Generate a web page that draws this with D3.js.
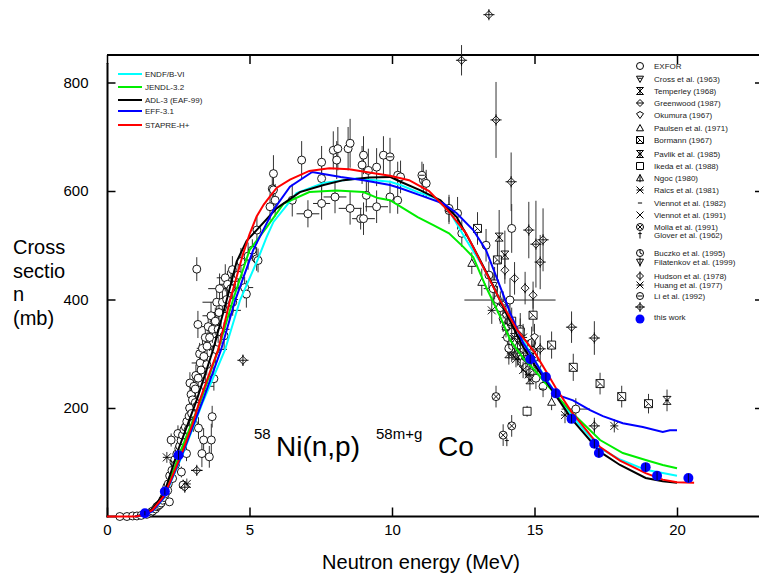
<!DOCTYPE html>
<html>
<head>
<meta charset="utf-8">
<script src="https://cdn.jsdelivr.net/npm/d3@7"></script>
<style>
body { margin: 0; background: #fff; }
svg { font-family: Arial, "Liberation Sans", sans-serif; }
</style>
</head>
<body>
<svg id="chart" width="759" height="575"></svg>
<script>
// evaluated curves [E (MeV), sigma (mb)]
var endfCurve = [[1.0,0],[1.3,3],[1.6,10],[2.0,34],[2.7,120],[3.37,212],[4.14,307],[4.67,399],[5.3,475],[5.6,515],[5.84,543],[6.65,596],[7.6,615],[8.76,623],[9.93,617],[10.3,611],[10.9,598],[11.45,589],[12.0,564],[12.6,510],[13.2,460],[13.8,399],[14.4,343],[15.0,288],[15.4,255],[15.8,222],[16.3,186],[17.3,126],[18.0,105],[18.9,86],[19.5,80],[20.0,75]]
var jendlCurve = [[1.0,0],[1.3,3],[1.6,11],[2.0,38],[2.6,123],[3.3,215],[3.9,307],[4.42,399],[5.0,491],[5.6,533],[6.2,577],[7.1,598],[8.05,601],[9.0,598],[9.5,587],[9.93,583],[10.4,568],[10.9,552],[11.45,537],[12.0,522],[12.5,497],[12.85,478],[13.3,423],[13.8,368],[14.15,325],[14.6,292],[15.0,270],[15.4,245],[16.3,192],[17.3,141],[18.1,117],[18.9,104],[19.5,95],[20.0,89]]
var adlCurve = [[1.0,0],[1.3,4],[1.6,14],[2.0,42],[2.5,123],[3.15,215],[3.72,307],[4.2,399],[4.55,470],[4.9,508],[5.25,528],[5.95,568],[6.77,598],[7.6,611],[8.3,620],[9.2,625],[9.93,626],[10.3,617],[11.0,601],[11.7,583],[12.27,552],[12.85,497],[13.45,436],[14.0,375],[14.6,313],[15.0,280],[15.4,250],[16.3,180],[17.3,119],[18.0,95],[18.9,71],[19.5,65],[20.0,62]]
var effCurve = [[1.0,0],[1.3,3],[1.6,10],[2.0,35],[2.7,123],[3.37,215],[4.0,307],[4.5,399],[5.13,491],[5.25,504],[5.84,565],[6.42,608],[7.2,635],[8.2,626],[9.0,620],[9.93,611],[10.3,605],[11.0,592],[11.8,577],[12.27,559],[12.85,528],[13.3,491],[13.8,423],[14.15,375],[14.6,320],[15.0,288],[15.4,252],[15.8,224],[16.35,214],[16.95,196],[17.4,185],[18.1,172],[18.8,165],[19.5,156],[19.75,159],[20.0,159]]
var stapreCurve = [[0,0],[1.0,0],[1.3,3],[1.6,12],[2.0,38],[2.3,75],[2.67,123],[3.0,170],[3.26,215],[3.6,265],[3.9,307],[4.32,399],[4.78,485],[5.0,520],[5.25,553],[5.5,575],[5.72,590],[5.96,606],[6.42,621],[7.1,637],[7.8,642],[8.5,640],[9.2,634],[9.93,628],[10.6,620],[11.3,600],[12.0,562],[12.6,522],[13.2,460],[13.8,398],[14.4,343],[15.0,303],[15.4,268],[15.75,237],[16.3,193],[17.3,128],[18.0,103],[18.9,80],[19.5,68],[20.0,63],[20.6,62]]

var curveNames = ['ENDF/B-VI', 'JENDL-3.2', 'ADL-3 (EAF-99)', 'EFF-3.1', 'STAPRE-H+']
var curveColors = ['#00ffff', '#00ee00', '#000000', '#0000ff', '#ff0000']

// measured points [E, sigma, dSigma, dE]
var exfor = [[0.45,0,0,0],[0.7,0,0,0],[0.9,1,0,0],[1.05,1,0,0],[1.2,2,0,0],[1.4,4,0,0],[1.55,8,3,0],[1.6,10,3,0.1],[1.7,14,4,0],[1.75,18,4,0],[1.8,20,4,0.1],[1.85,22,5,0],[1.9,25,5,0],[1.95,30,5,0.1],[2.0,35,6,0],[2.05,42,6,0],[2.1,55,6,0],[2.13,48,8,0],[2.15,60,7,0.1],[2.19,27,6,0],[2.2,75,8,0],[2.25,141,12,0],[2.28,85,8,0],[2.3,70,8,0.15],[2.35,100,10,0],[2.38,105,8,0],[2.4,95,10,0.15],[2.45,115,10,0.1],[2.49,153,15,0],[2.52,125,10,0],[2.55,130,12,0],[2.6,140,12,0],[2.61,82,10,0],[2.65,150,12,0],[2.67,58,10,0],[2.7,160,14,0.1],[2.75,165,12,0],[2.79,116,14,0],[2.8,175,15,0],[2.85,160,15,0.2],[2.88,185,14,0],[2.9,200,15,0.15],[2.91,246,20,0],[2.95,225,16,0],[2.97,190,18,0],[3.0,215,18,0],[3.03,172,16,0],[3.05,240,18,0],[3.1,235,18,0],[3.1,210,18,0.2],[3.12,260,20,0.15],[3.15,203,20,0],[3.15,456,22,0],[3.19,354,25,0],[3.2,255,20,0.2],[3.21,163,20,0],[3.25,300,20,0],[3.27,283,22,0.3],[3.3,270,20,0],[3.33,116,25,0],[3.35,310,22,0.2],[3.39,141,22,0],[3.4,295,22,0.2],[3.45,240,20,0.3],[3.45,330,22,0],[3.5,280,20,0],[3.51,314,25,0.3],[3.55,350,25,0.3],[3.59,110,20,0],[3.6,330,25,0.3],[3.65,370,25,0.3],[3.66,141,30,0],[3.69,184,20,0],[3.7,345,25,0],[3.75,254,22,0],[3.8,360,25,0.2],[3.81,308,25,0.4],[3.85,395,25,0.5],[3.9,345,25,0.4],[3.93,376,25,0.3],[3.95,420,28,0.4],[4.0,340,22,0.2],[4.05,395,25,0],[4.11,333,25,0],[4.15,440,25,0.3],[4.2,400,25,0.4],[4.23,428,25,0.3],[4.3,380,20,0.4],[4.35,420,30,0.3],[4.4,455,25,0],[4.41,395,25,0],[4.5,440,22,0.3],[4.6,445,25,0],[4.7,470,25,0],[4.83,422,20,0.3],[4.89,410,25,0],[4.95,480,25,0],[5.1,491,20,0],[5.25,475,22,0],[5.26,528,25,0],[5.3,472,22,0],[5.72,571,25,0],[5.8,604,30,0],[5.84,632,34,0],[5.84,602,30,0],[5.9,583,30,0],[6.5,583,30,0],[6.83,657,35,0],[7.05,558,25,0.4],[7.53,653,30,0],[7.53,623,30,0],[7.53,577,30,0.3],[7.94,675,35,0],[8.0,589,30,0.4],[8.06,657,35,0],[8.1,678,40,0],[8.46,678,40,0],[8.53,688,45,0],[8.53,568,30,0.4],[8.9,549,20,0],[8.95,648,35,0],[9.0,666,35,0],[9.0,549,30,0.4],[9.1,592,30,0],[9.17,638,40,0],[9.46,644,35,0],[9.46,571,30,0.4],[9.7,666,35,0],[9.93,589,30,0],[10.2,629,25,0],[10.2,583,25,0],[10.3,626,30,0],[11.1,620,30,0],[11.2,614,25,0],[12.0,564,25,0],[12.3,559,30,0],[12.45,522,25,0],[13.3,500,30,0],[13.4,445,25,0],[13.55,420,30,0],[13.7,400,25,0],[13.8,385,30,0],[13.9,365,25,0],[14.0,350,20,0],[14.05,330,25,0.2],[14.1,360,30,0],[14.14,399,40,1.6],[14.2,531,45,0],[14.2,340,25,0],[14.25,310,20,0],[14.35,325,25,0],[14.4,298,20,0],[14.45,300,20,0],[14.5,345,30,0],[14.55,285,20,0],[14.6,310,25,0],[14.7,275,20,0],[14.75,300,25,0],[14.85,265,20,0],[14.9,320,30,0],[15.05,255,20,0],[15.1,280,25,0],[15.3,240,20,0],[16.45,198,20,0.5]]
var cross63 = [[13.6,430,30,0],[14.5,295,20,0]]
var temperley68 = [[14.3,330,25,0],[14.9,300,25,0]]
var greenwood87 = [[13.9,390,25,0],[14.7,290,20,0]]
var okumura67 = [[14.0,370,25,0],[15.0,330,25,0]]
var paulsen71 = [[12.8,467,20,0],[13.15,432,25,0],[14.0,350,20,0],[14.3,320,20,0],[15.6,211,15,0]]
var bormann67 = [[13.0,531,30,0],[13.7,473,35,0],[14.2,360,25,0],[14.5,340,25,0],[14.95,371,30,0],[15.6,316,25,0],[16.36,275,25,0],[17.3,245,20,0],[18.06,221,20,0],[19.0,208,18,0]]
var pavlik85 = [[13.76,515,50,0],[13.96,482,45,0],[14.1,300,20,0],[14.84,252,20,0],[19.65,214,20,0]]
var ikeda88 = [[14.74,194,10,0]]
var ngoc80 = [[14.4,315,20,0]]
var raics81 = [[2.1,109,10,0],[13.5,380,25,0],[14.6,330,25,0],[16.07,187,15,0],[17.8,167,12,0]]
var viennot82 = [[13.3,420,0,0],[15.26,235,0,0]]
var viennot91 = [[14.2,300,15,0],[14.6,270,15,0]]
var molla91 = [[13.65,221,20,0],[13.9,150,20,0],[14.2,167,20,0]]
var glover62 = [[14.03,137,0,0]]
var buczko95 = [[14.1,310,20,0]]
var filatenkov99 = [[14.76,290,15,0]]
var hudson78 = [[13.96,454,25,0],[14.3,439,30,0],[14.67,421,30,0],[14.95,408,25,0]]
var huang77 = [[2.8,60,10,0],[14.35,290,15,0],[14.8,262,15,0]]
var li92 = [[9.93,663,35,0],[11.05,629,25,0],[12.0,568,25,0]]
var unnamed = [[2.73,54,8,0],[3.15,85,8,0.2],[4.77,288,10,0],[12.44,841,28,0],[13.4,925,8,0],[13.65,731,70,0],[14.18,617,54,0],[14.8,528,52,0],[14.95,307,20,0],[15.05,502,80,0],[15.2,469,50,0],[15.2,309,25,0],[15.3,510,58,0],[16.3,349,29,0],[17.1,329,31,0],[17.1,167,15,0]]
var thisWork = [[1.33,6,4,0],[2.03,46,6,0],[2.51,113,8,0],[14.85,290,8,0],[15.4,257,8,0],[15.75,227,8,0],[16.3,180,8,0],[17.1,134,8,0],[17.26,117,8,0],[18.9,91,8,0],[19.3,75,8,0],[20.4,71,8,0]]

var setNames = ['EXFOR', 'Cross et al. (1963)', 'Temperley (1968)', 'Greenwood (1987)', 'Okumura (1967)', 'Paulsen et al. (1971)', 'Bormann (1967)', 'Pavlik et al. (1985)', 'Ikeda et al. (1988)', 'Ngoc (1980)', 'Raics et al. (1981)', 'Viennot et al. (1982)', 'Viennot et al. (1991)', 'Molla et al. (1991)', 'Glover et al. (1962)', 'Buczko et al. (1995)', 'Filatenkov et al. (1999)', 'Hudson et al. (1978)', 'Huang et al. (1977)', 'Li et al. (1992)', '', 'this work']
var setData = [exfor, cross63, temperley68, greenwood87, okumura67, paulsen71, bormann67, pavlik85, ikeda88, ngoc80, raics81, viennot82, viennot91, molla91, glover62, buczko95, filatenkov99, hudson78, huang77, li92, unnamed, thisWork]
var setSymbols = ['circle', 'triDown', 'hourglass', 'diamondH', 'shield', 'triUp', 'squareDiag', 'hourglassV', 'square', 'triV', 'asterisk', 'dash', 'xmark', 'circleX', 'dagger', 'circleClock', 'triDownV', 'diamondV', 'asterisk', 'circleH', 'diamondCross', 'dot']

// layout
var legendY = [66, 79, 91, 103, 115, 128, 140, 154, 166, 178, 190, 203, 215, 227, 235, 253, 262, 276, 285, 296, 307, 319]
var curveLegendY = [74, 87, 100, 111, 125]

var svg = d3.select('#chart')
var x = d3.scaleLinear().domain([0, 20]).range([107, 677])
var y = d3.scaleLinear().domain([0, 800]).range([516.5, 82.5])

///////
function circ(r) {
    return 'M' + (-r) + ',0A' + r + ',' + r + ' 0 1,0 ' + r + ',0A' + r + ',' + r + ' 0 1,0 ' + (-r) + ',0Z'
}

///////
function symbolPath(type, s) {
    var diamond = 'M0,' + (-s) + 'L' + s + ',0L0,' + s + 'L' + (-s) + ',0Z'
    var tDown = 'M' + (-s) + ',' + (-s * 0.8) + 'L' + s + ',' + (-s * 0.8) + 'L0,' + s + 'Z'
    var tUp = 'M0,' + (-s) + 'L' + s + ',' + (s * 0.8) + 'L' + (-s) + ',' + (s * 0.8) + 'Z'
    var sq = 'M' + (-s) + ',' + (-s) + 'h' + (2 * s) + 'v' + (2 * s) + 'h' + (-2 * s) + 'Z'
    var hg = 'M' + (-s) + ',' + (-s) + 'L' + s + ',' + (-s) + 'L' + (-s) + ',' + s + 'L' + s + ',' + s + 'Z'
    var xm = 'M' + (-s) + ',' + (-s) + 'L' + s + ',' + s + 'M' + (-s) + ',' + s + 'L' + s + ',' + (-s)
    var k = s * 0.7
    switch (type) {
        case 'circle': return circ(s)
        case 'triDown': return tDown + 'M' + (-s * 0.5) + ',' + (-s * 0.2) + 'H' + (s * 0.5)
        case 'hourglass': return hg + 'M0,' + (-s) + 'V' + s
        case 'diamondH': return diamond + 'M' + (-s) + ',0H' + s
        case 'shield': return 'M' + (-s) + ',' + (-s * 0.4) + 'L0,' + (-s) + 'L' + s + ',' + (-s * 0.4) + 'L0,' + s + 'Z'
        case 'triUp': return tUp
        case 'squareDiag': return sq + 'M' + (-s) + ',' + (-s) + 'L' + s + ',' + s + 'M' + (-s) + ',' + s + 'L0,0'
        case 'hourglassV': return hg + 'M0,' + (-s) + 'V' + s + 'M' + (-s * 0.5) + ',0H' + (s * 0.5)
        case 'square': return sq
        case 'triV': return tUp + 'M0,' + (-s) + 'V' + (s * 1.2)
        case 'asterisk': return xm + 'M' + (-s) + ',0H' + s
        case 'dash': return 'M' + (-s * 0.6) + ',0H' + (s * 0.6)
        case 'xmark': return xm
        case 'circleX': return circ(s) + 'M' + (-k) + ',' + (-k) + 'L' + k + ',' + k + 'M' + (-k) + ',' + k + 'L' + k + ',' + (-k)
        case 'dagger': return 'M0,' + (-s) + 'V' + s + 'M' + (-s * 0.5) + ',' + (-s * 0.4) + 'H' + (s * 0.5)
        case 'circleClock': return circ(s) + 'M0,' + (-s) + 'V0L' + (s * 0.6) + ',' + (s * 0.3)
        case 'triDownV': return tDown + 'M0,' + (-s * 1.3) + 'V' + (s * 1.3)
        case 'diamondV': return diamond + 'M0,' + (-s * 1.3) + 'V' + (s * 1.3)
        case 'circleH': return circ(s) + 'M' + (-k) + ',0H' + k
        case 'diamondCross': return diamond + 'M' + (-s * 1.4) + ',0H' + (s * 1.4) + 'M0,' + (-s * 1.4) + 'V' + (s * 1.4)
    }
    return circ(s)
}

////////
function drawAxes() {
    var tickFont = 15

    // bottom
    var gb = svg.append('g').attr('transform', 'translate(0,516.5)')
    gb.call(d3.axisBottom(x).tickValues(d3.range(0, 23)).tickSize(-5).tickFormat(''))
    gb.call(d3.axisBottom(x).tickValues([0, 5, 10, 15, 20]).tickSize(-9).tickPadding(8))
    gb.selectAll('.domain').remove()
    gb.selectAll('text').attr('font-size', tickFont).attr('font-family', 'Arial, Liberation Sans')

    // top
    var gt = svg.append('g').attr('transform', 'translate(0,55)')
    gt.call(d3.axisTop(x).tickValues(d3.range(0, 23)).tickSize(-5).tickFormat(''))
    gt.call(d3.axisTop(x).tickValues([0, 5, 10, 15, 20]).tickSize(-9).tickFormat(''))
    gt.selectAll('.domain').remove()

    // left
    var gl = svg.append('g').attr('transform', 'translate(107.5,0)')
    gl.call(d3.axisLeft(y).tickValues([100, 300, 500, 700]).tickSize(-4).tickFormat(''))
    gl.call(d3.axisLeft(y).tickValues([200, 400, 600, 800]).tickSize(-8).tickPadding(19))
    gl.selectAll('.domain').remove()
    gl.selectAll('text').attr('font-size', tickFont).attr('font-family', 'Arial, Liberation Sans')

    // right, mostly outside the picture
    var gr = svg.append('g').attr('transform', 'translate(763,0)')
    gr.call(d3.axisRight(y).tickValues([200, 400, 600, 800]).tickSize(-8).tickFormat(''))
    gr.selectAll('.domain').remove()

    svg.selectAll('.tick line').attr('stroke', '#000').attr('stroke-width', 1.5)

    svg.append('line').attr('x1', 106.5).attr('x2', 759).attr('y1', 516.5).attr('y2', 516.5)
        .attr('stroke', '#000').attr('stroke-width', 2)
    svg.append('line').attr('x1', 107).attr('x2', 759).attr('y1', 55).attr('y2', 55)
        .attr('stroke', '#000').attr('stroke-width', 2)
    svg.append('line').attr('x1', 107.5).attr('x2', 107.5).attr('y1', 63).attr('y2', 517.5)
        .attr('stroke', '#000').attr('stroke-width', 2)
}

////////
function drawSets() {
    var g = svg.append('g')
    setData.forEach(function (data, i) {
        if (setSymbols[i] === 'dot') return
        var sg = g.append('g')
        data.forEach(function (d) {
            if (d[2] > 0) {
                sg.append('line').attr('x1', x(d[0])).attr('x2', x(d[0]))
                    .attr('y1', y(d[1] - d[2])).attr('y2', y(d[1] + d[2]))
                    .attr('stroke', '#333').attr('stroke-width', 1)
            }
            if (d[3] > 0) {
                sg.append('line').attr('x1', x(d[0] - d[3])).attr('x2', x(d[0] + d[3]))
                    .attr('y1', y(d[1])).attr('y2', y(d[1]))
                    .attr('stroke', '#222').attr('stroke-width', 1)
            }
        })
        sg.selectAll('path').data(data).enter().append('path')
            .attr('transform', function (d) { return 'translate(' + x(d[0]) + ',' + y(d[1]) + ')' })
            .attr('d', symbolPath(setSymbols[i], 4))
            .attr('fill', 'white')
            .attr('stroke', '#000')
            .attr('stroke-width', 0.9)
    })
}

////////
function drawCurves() {
    var line = d3.line().x(function (d) { return x(d[0]) }).y(function (d) { return y(d[1]) })
    var curves = [endfCurve, jendlCurve, adlCurve, effCurve, stapreCurve]
    curves.forEach(function (c, i) {
        svg.append('path').attr('d', line(c)).attr('fill', 'none')
            .attr('stroke', curveColors[i]).attr('stroke-width', 2)
    })
}

////////
function drawThisWork() {
    var g = svg.append('g')
    g.selectAll('circle').data(thisWork).enter().append('circle')
        .attr('cx', function (d) { return x(d[0]) })
        .attr('cy', function (d) { return y(d[1]) })
        .attr('r', 5).attr('fill', '#0000ff')
    thisWork.forEach(function (d) {
        g.append('line').attr('x1', x(d[0])).attr('x2', x(d[0]))
            .attr('y1', y(d[1] - d[2])).attr('y2', y(d[1] + d[2]))
            .attr('stroke', '#000').attr('stroke-width', 0.8)
    })
}

////////
function drawLegends() {
    curveNames.forEach(function (n, i) {
        svg.append('line').attr('x1', 118).attr('x2', 142)
            .attr('y1', curveLegendY[i]).attr('y2', curveLegendY[i])
            .attr('stroke', curveColors[i]).attr('stroke-width', 2)
        svg.append('text').attr('x', 145).attr('y', curveLegendY[i] + 3)
            .attr('font-size', 8).attr('fill', '#222').text(n)
    })
    setNames.forEach(function (n, i) {
        var yy = legendY[i]
        if (setSymbols[i] === 'dot') {
            svg.append('circle').attr('cx', 640).attr('cy', yy).attr('r', 4.5).attr('fill', '#0000ff')
        } else {
            svg.append('path').attr('transform', 'translate(640,' + yy + ')')
                .attr('d', symbolPath(setSymbols[i], 3.5))
                .attr('fill', 'white').attr('stroke', '#000').attr('stroke-width', 1)
        }
        svg.append('text').attr('x', 654).attr('y', yy + (i === 21 ? 1 : 3))
            .attr('font-size', 8).attr('fill', '#222').text(n)
    })
}

////////
function drawTexts() {
    var ylab = ['Cross', 'sectio', 'n', '(mb)']
    ylab.forEach(function (t, i) {
        svg.append('text').attr('x', 13).attr('y', 254 + i * 23.7).attr('font-size', 20).text(t)
    })
    svg.append('text').attr('x', 421).attr('y', 569).attr('text-anchor', 'middle')
        .attr('font-size', 20).text('Neutron energy (MeV)')

    svg.append('text').attr('x', 254).attr('y', 439).attr('font-size', 15).text('58')
    svg.append('text').attr('x', 276).attr('y', 456).attr('font-size', 28).text('Ni(n,p)')
    svg.append('text').attr('x', 376).attr('y', 439).attr('font-size', 15).text('58m+g')
    svg.append('text').attr('x', 438).attr('y', 456).attr('font-size', 28).text('Co')
}

drawAxes()
drawSets()
drawCurves()
drawThisWork()
drawLegends()
drawTexts()
</script>
</body>
</html>
